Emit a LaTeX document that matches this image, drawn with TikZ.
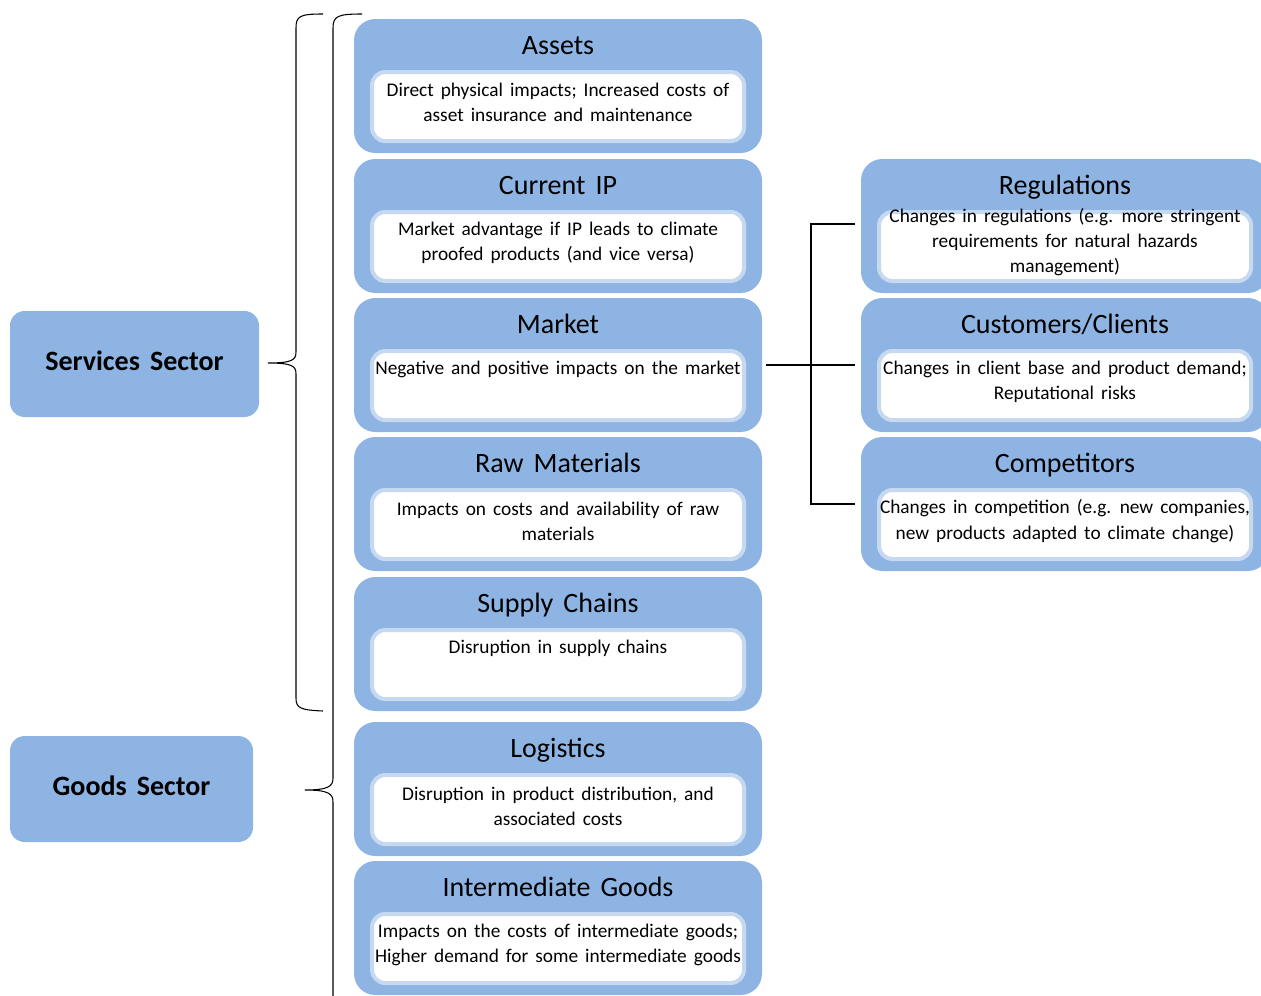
\documentclass[tikz,border=0pt]{standalone}
\usepackage{fontspec}
\setmainfont{Carlito}[WordSpace=1.6]
\usetikzlibrary{calc}
\definecolor{boxblue}{HTML}{8EB4E3}
\definecolor{rimblue}{HTML}{C6D9F1}
\tikzset{
 outerbox/.style={fill=boxblue, rounded corners=16pt, minimum width=306pt, minimum height=100.5pt, inner sep=0pt},
 innerbox/.style={fill=white, draw=rimblue, line width=3pt, rounded corners=10pt, minimum width=279pt, minimum height=51.75pt, inner sep=0pt},
 titletext/.style={font=\fontsize{21}{24}\selectfont, inner sep=0pt, anchor=base},
 bodytext/.style={font=\fontsize{14.5}{18.9}\selectfont, align=center, inner sep=0pt},
 sectorbox/.style={fill=boxblue, rounded corners=11pt, inner sep=0pt, minimum height=79.5pt, font=\fontsize{21}{24}\selectfont\bfseries},
 link/.style={draw=black, line width=1pt},
 bracket/.style={draw=black, line width=0.8pt},
}
\newcommand{\catbox}[6]{%
 \node[outerbox] (#1) at (#2,#3+67) {};
 \node[innerbox] (#1in) at (#2,#3+87.5) {};
 \node[titletext] (#1t) at (#2,#3+35) {#4};
 \node[bodytext] (#1b) at (#2,#3+#6) {#5};
}
\begin{document}
\begin{tikzpicture}[x=0.75pt,y=-0.75pt]
\useasboundingbox (0,0) rectangle (1261,996);
\clip (0,0) rectangle (1261,996);
% sector boxes
\node[sectorbox, minimum width=186.75pt] (serv) at (134.5,364) {\raisebox{4.5pt}{Services Sector}};
\node[sectorbox, minimum width=182.25pt] (goods) at (131.5,789) {\raisebox{4.5pt}{Goods Sector}};
% middle column
\catbox{ass}{558}{19}{Assets}{Direct physical impacts; Increased costs of\\asset insurance and maintenance}{83.5}
\catbox{cip}{558}{159}{Current IP}{Market advantage if IP leads to climate\\proofed products (and vice versa)}{83.5}
\catbox{mkt}{558}{298}{Market}{Negative and positive impacts on the market}{71}
\catbox{raw}{558}{437}{Raw Materials}{Impacts on costs and availability of raw\\materials}{84}
\catbox{sup}{558}{577}{Supply Chains}{Disruption in supply chains}{71}
\catbox{log}{558}{722}{Logistics}{Disruption in product distribution, and\\associated costs}{84}
\catbox{ing}{558}{861}{Intermediate Goods}{Impacts on the costs of intermediate goods;\\Higher demand for some intermediate goods}{84}
% right column
\catbox{reg}{1065}{159}{Regulations}{Changes in regulations (e.g. more stringent\\requirements for natural hazards\\management)}{83}
\catbox{cust}{1065}{298}{Customers/Clients}{Changes in client base and product demand;\\Reputational risks}{83.5}
\catbox{comp}{1065}{437}{Competitors}{Changes in competition (e.g. new companies,\\new products adapted to climate change)}{84}
% connectors
\coordinate (bus) at (811,365);
\draw[link] ([xshift=3pt]mkt.east) -- ([xshift=-4pt]cust.west);
\draw[link] ([xshift=-4pt,yshift=1.5pt]reg.west) -| (bus |- comp.west) -- ([xshift=-4pt]comp.west);
% braces
\draw[bracket] (323,14) .. controls (300,14) and (296,16) .. (296,28) -- (296,352)
  .. controls (296,360) and (292,363) .. (268,363)
  .. controls (292,363) and (296,366) .. (296,374) -- (296,698)
  .. controls (296,708) and (300,710) .. (323,711);
\draw[bracket] (362,14) .. controls (338,14) and (333,16) .. (333,28) -- (333,778)
  .. controls (333,786) and (329,790) .. (305,790)
  .. controls (329,790) and (333,794) .. (333,802) -- (333,1000);
\end{tikzpicture}
\end{document}
